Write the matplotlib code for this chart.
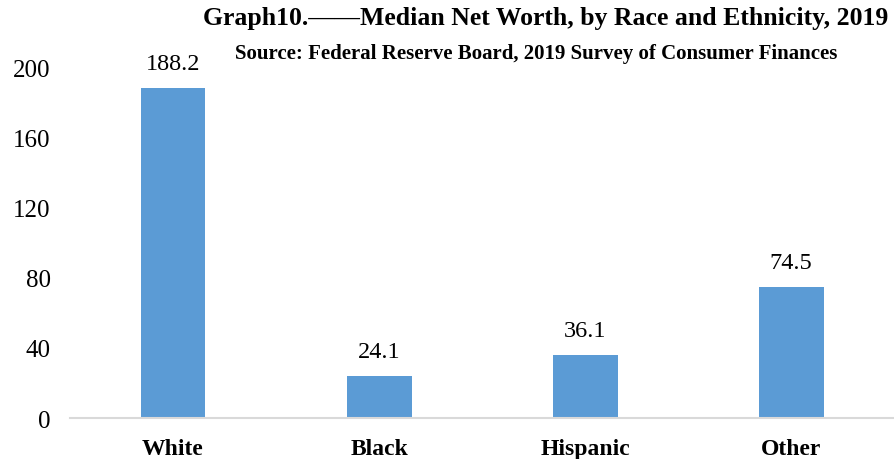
import numpy as np
import matplotlib
matplotlib.use('Agg')
import matplotlib.pyplot as plt

categories = ['White', 'Black', 'Hispanic', 'Other']
values = [188.2, 24.1, 36.1, 74.5]
yticks = [0, 40, 80, 120, 160, 200]

plt.rcParams['font.family'] = ['Liberation Serif', 'DejaVu Serif']

fig = plt.figure(figsize=(8.94, 4.6), dpi=100)
ax = fig.add_axes([0.0783, 0.089, 0.922, 0.763])

x = np.arange(len(categories))
ax.bar(x, values, width=0.315, color='#5B9BD5', zorder=2)
for xi, v in zip(x, values):
    ax.text(xi, v + 8, '%.1f' % v, ha='center', va='bottom', fontsize=17.5)

ax.set_xlim(-0.5, len(categories) - 0.5)
ax.set_ylim(0, 200)
ax.set_yticks(yticks)
ax.set_yticklabels([str(t) for t in yticks], fontsize=18)
ax.set_xticks(x)
ax.set_xticklabels(categories, fontsize=17, fontweight='bold')
ax.tick_params(axis='both', length=0)
ax.tick_params(axis='y', pad=14)
ax.tick_params(axis='x', pad=14)

for s in ['top', 'right', 'left']:
    ax.spines[s].set_visible(False)
ax.spines['bottom'].set_color('#d9d9d9')
ax.spines['bottom'].set_linewidth(1.5)

fig.text(0.61, 0.96, 'Graph10.\u2014\u2014Median Net Worth, by Race and Ethnicity, 2019',
         ha='center', va='center', fontsize=18.5, fontweight='bold')
fig.text(0.60, 0.882, 'Source: Federal Reserve Board, 2019 Survey of Consumer Finances',
         ha='center', va='center', fontsize=15, fontweight='bold')

fig.savefig('out.png', dpi=100)
